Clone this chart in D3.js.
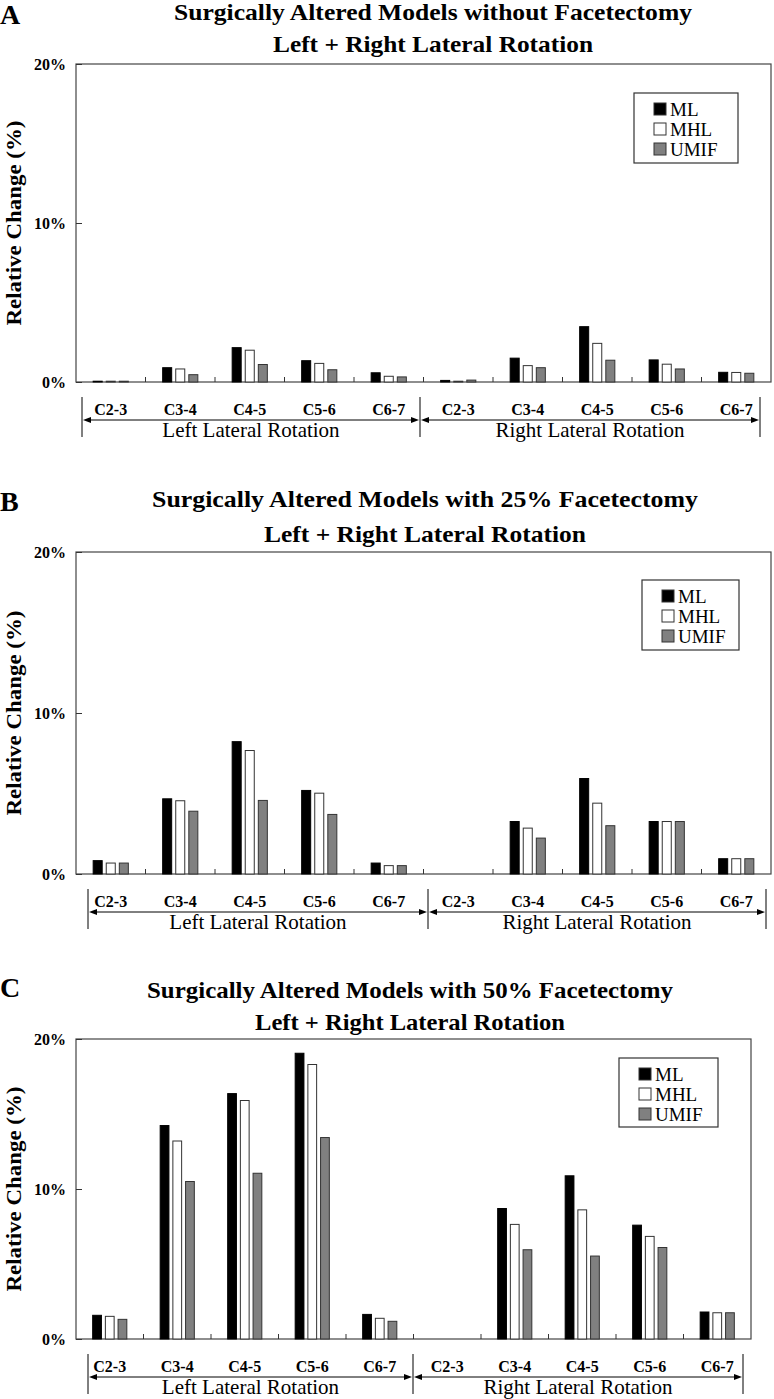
<!DOCTYPE html>
<html>
<head>
<meta charset="utf-8">
<script src="https://cdn.jsdelivr.net/npm/d3@7"></script>
<style>
  html, body { margin: 0; padding: 0; background: #fff; }
  svg { display: block; }
  text { font-family: "Liberation Serif", "Times New Roman", serif; fill: #000; }
</style>
</head>
<body>
<svg id="chart" width="774" height="1399"></svg>
<script>
// ---------------- DATA ----------------
const categories = ["C2-3", "C3-4", "C4-5", "C5-6", "C6-7"];
const sides = ["Left Lateral Rotation", "Right Lateral Rotation"];
const seriesNames = ["ML", "MHL", "UMIF"];
const yTicks = [0, 10, 20];

const panelLetters = ["A", "B", "C"];
const panelTitles = [
  "Surgically Altered Models without Facetectomy",
  "Surgically Altered Models with 25% Facetectomy",
  "Surgically Altered Models with 50% Facetectomy"
];
const panelSubtitle = "Left + Right Lateral Rotation";
const yAxisTitle = "Relative Change (%)";

// values in %, order: left C2-3..C6-7, right C2-3..C6-7
const mlA   = [0.05, 0.90, 2.16, 1.34, 0.58, 0.10, 1.50, 3.48, 1.39, 0.61];
const mhlA  = [0.05, 0.82, 2.00, 1.17, 0.36, 0.05, 1.03, 2.43, 1.12, 0.60];
const umifA = [0.05, 0.46, 1.10, 0.77, 0.32, 0.12, 0.90, 1.37, 0.82, 0.55];

const mlB   = [0.83, 4.67, 8.22, 5.19, 0.68, 0, 3.26, 5.93, 3.26, 0.95];
const mhlB  = [0.68, 4.55, 7.67, 5.02, 0.52, 0, 2.85, 4.40, 3.26, 0.95];
const umifB = [0.68, 3.90, 4.57, 3.70, 0.52, 0, 2.23, 3.00, 3.26, 0.95];

const mlC   = [1.58, 14.23, 16.36, 19.05, 1.64, 0, 8.70, 10.88, 7.59, 1.80];
const mhlC  = [1.51, 13.20, 15.90, 18.30, 1.38, 0, 7.64, 8.61, 6.84, 1.75];
const umifC = [1.31, 10.50, 11.05, 13.43, 1.18, 0, 5.95, 5.53, 6.10, 1.75];

const panelSeries = [[mlA, mhlA, umifA], [mlB, mhlB, umifB], [mlC, mhlC, umifC]];

// ---------------- LAYOUT / STYLE ----------------
const fills = { ML: "#000000", MHL: "#ffffff", UMIF: "#808080" };
const layouts = [
  { left: 76, right: 771, top: 64, bottom: 382, letterY: 24, titleY: 20, subY: 52, titleX: 433, titleW: 518, subW: 320,
    bracket: [82, 420, 760], legend: { x: 634, y: 93, w: 104, h: 70 } },
  { left: 76, right: 771, top: 552, bottom: 874, letterY: 511, titleY: 507, subY: 542, titleX: 425, titleW: 546, subW: 322,
    bracket: [88, 428, 766], legend: { x: 642, y: 580, w: 97, h: 70 } },
  { left: 76, right: 751, top: 1039, bottom: 1339, letterY: 997, titleY: 998, subY: 1030, titleX: 410, titleW: 526, subW: 310,
    bracket: [88, 413, 743], legend: { x: 619, y: 1058, w: 99, h: 69 } }
];

const svg = d3.select("#chart");

layouts.forEach((L, p) => {
  const g = svg.append("g");
  const series = panelSeries[p];
  const idx = d3.range(categories.length * sides.length);

  const x = d3.scaleBand().domain(idx).range([L.left, L.right]).padding(0);
  const bw = x.bandwidth();
  const xs = d3.scaleBand().domain(seriesNames)
    .range([bw * 0.247, bw * 0.753]).paddingInner(0.31).paddingOuter(0);
  const y = d3.scaleLinear().domain([0, 20]).range([L.bottom, L.top]);

  // panel letter
  g.append("text").attr("x", 0).attr("y", L.letterY)
    .attr("font-size", 28).attr("font-weight", "bold").text(panelLetters[p]);

  // titles
  g.append("text").attr("x", L.titleX).attr("y", L.titleY)
    .attr("text-anchor", "middle").attr("font-size", 24).attr("font-weight", "bold")
    .attr("textLength", L.titleW).attr("lengthAdjust", "spacingAndGlyphs")
    .text(panelTitles[p]);
  g.append("text").attr("x", L.titleX).attr("y", L.subY)
    .attr("text-anchor", "middle").attr("font-size", 24).attr("font-weight", "bold")
    .attr("textLength", L.subW).attr("lengthAdjust", "spacingAndGlyphs")
    .text(panelSubtitle);

  // plot box
  g.append("rect").attr("x", L.left).attr("y", L.top)
    .attr("width", L.right - L.left).attr("height", L.bottom - L.top)
    .attr("fill", "none").attr("stroke", "#444").attr("stroke-width", 1.2);

  // y axis
  const yAxis = d3.axisLeft(y).tickValues(yTicks).tickSizeInner(-6).tickSizeOuter(0)
    .tickPadding(10).tickFormat(d => d + "%");
  const ya = g.append("g").attr("transform", `translate(${L.left},0)`).call(yAxis);
  ya.select(".domain").remove();
  ya.selectAll("line").attr("stroke", "#333");
  ya.selectAll("text").attr("font-size", 16).attr("font-weight", "bold")
    .attr("font-family", "Liberation Serif, serif");

  // y axis title
  g.append("text")
    .attr("transform", `translate(13,${(L.top + L.bottom) / 2}) rotate(-90)`)
    .attr("text-anchor", "middle").attr("dominant-baseline", "central")
    .attr("font-size", 22).attr("font-weight", "bold")
    .attr("textLength", 205).attr("lengthAdjust", "spacingAndGlyphs")
    .text(yAxisTitle);

  // x axis labels
  const xAxis = d3.axisBottom(x).tickSize(0).tickPadding(22)
    .tickFormat(i => categories[i % categories.length]);
  const xa = g.append("g").attr("transform", `translate(0,${L.bottom})`).call(xAxis);
  xa.select(".domain").remove();
  xa.selectAll("text").attr("font-size", 16).attr("font-weight", "bold")
    .attr("font-family", "Liberation Serif, serif");

  // boundary ticks (pointing up from baseline)
  g.selectAll(".btick").data(idx.slice(1)).enter().append("line")
    .attr("x1", i => x(i)).attr("x2", i => x(i))
    .attr("y1", L.bottom).attr("y2", L.bottom - 5)
    .attr("stroke", "#333").attr("stroke-width", 1);

  // bars
  seriesNames.forEach((s, k) => {
    g.selectAll(".bar-" + s).data(idx.filter(i => series[k][i] > 0)).enter().append("rect")
      .attr("x", i => x(i) + xs(s))
      .attr("width", xs.bandwidth())
      .attr("y", i => y(series[k][i]))
      .attr("height", i => L.bottom - y(series[k][i]))
      .attr("fill", fills[s])
      .attr("stroke", s === "ML" ? "#000" : "#333")
      .attr("stroke-width", 1);
  });

  // brackets
  const labelBase = L.bottom + 32;
  const arrowY = labelBase + 6;
  const sideBase = arrowY + 17;
  L.bracket.forEach(bx => {
    g.append("line").attr("x1", bx).attr("x2", bx)
      .attr("y1", labelBase - 17).attr("y2", labelBase + 23)
      .attr("stroke", "#000").attr("stroke-width", 1);
  });
  for (let h = 0; h < 2; h++) {
    const x0 = L.bracket[h] + 1, x1 = L.bracket[h + 1] - 1;
    g.append("line").attr("x1", x0 + 4).attr("x2", x1 - 4)
      .attr("y1", arrowY).attr("y2", arrowY).attr("stroke", "#000").attr("stroke-width", 1);
    g.append("path").attr("d", `M${x0},${arrowY} L${x0 + 8},${arrowY - 3} L${x0 + 8},${arrowY + 3} Z`).attr("fill", "#000");
    g.append("path").attr("d", `M${x1},${arrowY} L${x1 - 8},${arrowY - 3} L${x1 - 8},${arrowY + 3} Z`).attr("fill", "#000");
    g.append("text").attr("x", (L.bracket[h] + L.bracket[h + 1]) / 2).attr("y", sideBase)
      .attr("text-anchor", "middle").attr("font-size", 21).text(sides[h]);
  }

  // legend
  const lg = g.append("g").attr("transform", `translate(${L.legend.x},${L.legend.y})`);
  lg.append("rect").attr("width", L.legend.w).attr("height", L.legend.h)
    .attr("fill", "#fff").attr("stroke", "#333").attr("stroke-width", 1.2);
  seriesNames.forEach((s, k) => {
    const cy = 16 + k * 20;
    lg.append("rect").attr("x", 20).attr("y", cy - 6).attr("width", 12).attr("height", 12)
      .attr("fill", fills[s]).attr("stroke", "#333").attr("stroke-width", 1);
    lg.append("text").attr("x", 36).attr("y", cy).attr("dominant-baseline", "central")
      .attr("font-size", 19).text(s);
  });
});
</script>
</body>
</html>
